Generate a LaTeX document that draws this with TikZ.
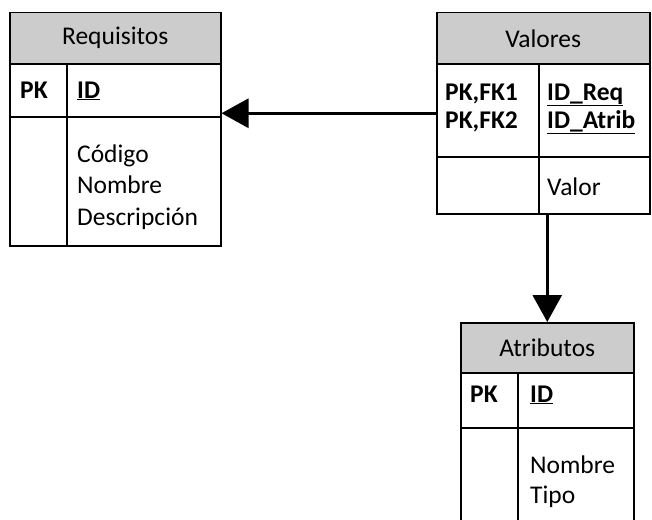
\documentclass[tikz,border=0pt]{standalone}
\usepackage{fontspec}
\setmainfont{Carlito}
\usetikzlibrary{arrows.meta}
\tikzset{
  tbl/.style={draw, line width=1.5pt, anchor=north west, inner sep=0pt},
  tblhead/.style={tbl, fill=black!20},
  rule/.style={line width=1.5pt},
  cell/.style={anchor=base west, inner sep=0pt, align=left},
  link/.style={line width=3pt, -{Triangle[length=27pt,width=29pt]}},
  every node/.style={font=\fontsize{25.5pt}{31pt}\selectfont},
}
\begin{document}
\begin{tikzpicture}[x=1pt,y=-1pt]
  \useasboundingbox (0,0) rectangle (652,519);
  \clip (0,0) rectangle (652,519);
  %% Requisitos
  \node[tbl, minimum width=211pt, minimum height=233pt] (req) at (9,12) {};
  \node[tblhead, minimum width=211pt, minimum height=51pt] (req-head) at (9,12) {};
  \draw[rule] (req.west |- 0,117) -- (req.east |- 0,117);
  \draw[rule] (67,63) -- (req.south -| 67,0);
  \node (req-title) at (req-head) {Requisitos};
  \node[cell] (req-pk) at (20,98) {\textbf{PK}};
  \node[cell] (req-id) at (77,98) {\underline{\textbf{ID}}};
  \node[cell, font=\fontsize{25.5pt}{31.5pt}\selectfont] (req-cols) at (77,225) {Código\\Nombre\\Descripción};
  %% Valores
  \node[tbl, minimum width=213pt, minimum height=201pt] (val) at (436,12) {};
  \node[tblhead, minimum width=213pt, minimum height=51pt] (val-head) at (436,12) {};
  \draw[rule] (val.west |- 0,157) -- (val.east |- 0,157);
  \draw[rule] (539,63) -- (val.south -| 539,0);
  \node (val-title) at (val-head) {Valores};
  \node[cell, font=\fontsize{25.5pt}{28pt}\selectfont] (val-pk) at (445,128) {\textbf{PK,FK1}\\\textbf{PK,FK2}};
  \node[cell, font=\fontsize{25.5pt}{28pt}\selectfont] (val-id) at (547,128) {\underline{\textbf{ID\_Req}}\\\underline{\textbf{ID\_Atrib}}};
  \node[cell] (val-cols) at (547,195) {Valor};
  %% Atributos
  \node[tbl, minimum width=173pt, minimum height=220pt] (atr) at (460,322) {};
  \node[tblhead, minimum width=173pt, minimum height=50pt] (atr-head) at (460,322) {};
  \draw[rule] (atr.west |- 0,428) -- (atr.east |- 0,428);
  \draw[rule] (518,372) -- (518,530);
  \node (atr-title) at (atr-head) {Atributos};
  \node[cell] (atr-pk) at (470,402) {\textbf{PK}};
  \node[cell] (atr-id) at (530,402) {\underline{\textbf{ID}}};
  \node[cell, font=\fontsize{25.5pt}{30pt}\selectfont] (atr-cols) at (530,503) {Nombre\\Tipo};
  %% links
  \draw[link] (val.west) -- (val.west -| req.east);
  \draw[link] (atr.north |- val.south) -- (atr.north);
\end{tikzpicture}
\end{document}
